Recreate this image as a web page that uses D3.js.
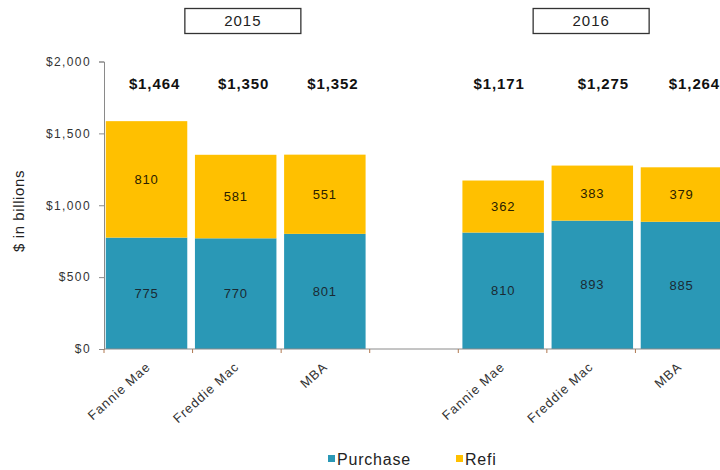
<!DOCTYPE html>
<html><head><meta charset="utf-8">
<script src="https://cdn.jsdelivr.net/npm/d3@7"></script>
<style>body{margin:0;background:#fff}svg{font-family:"Liberation Sans",Arial,sans-serif}</style>
</head><body><svg id="c" width="720" height="470"></svg>
<script>
const slots = ["2015|Fannie Mae","2015|Freddie Mac","2015|MBA","gap","2016|Fannie Mae","2016|Freddie Mac","2016|MBA"];
const categories = ["Fannie Mae","Freddie Mac","MBA","","Fannie Mae","Freddie Mac","MBA"];
const purchase = [775,770,801,null,810,893,885];
const refi = [810,581,551,null,362,383,379];
const totalLabels = ["$1,464","$1,350","$1,352",null,"$1,171","$1,275","$1,264"];
const years = ["2015","2016"];
const yearSlots = [1,5];
const yTicks = [0,500,1000,1500,2000];
const seriesNames = ["Purchase","Refi"];
const colors = ["#2A98B6","#FFC000"];

// layout (pixel nudges of the hand-placed total labels in the original)
const totalNudge = [8,8,8,0,-4,11,13];

const svg = d3.select("#c");
const x0 = 104, x1 = 724, yb = 349, yt = 61.5;
const x = d3.scaleBand().domain(slots).range([x0,x1]).paddingInner(0.086).paddingOuter(0.02);
const xt = d3.scaleBand().domain(slots).range([x0,x1]);
const y = d3.scaleLinear().domain([0,2000]).range([yb,yt]);

// y axis
const ya = svg.append("g").attr("transform",`translate(${x0},0)`)
  .call(d3.axisLeft(y).tickValues(yTicks).tickSize(5).tickPadding(8).tickFormat(d=>"$"+d3.format(",")(d)));
ya.select(".domain").attr("stroke","#8a8a8a");
ya.selectAll(".tick line").attr("stroke","#8a8a8a");
ya.selectAll("text").attr("font-size",12).attr("letter-spacing",1.4).attr("fill","#333").attr("font-family","Liberation Sans, Arial, sans-serif");

svg.append("text").attr("transform","translate(24,211) rotate(-90)").attr("text-anchor","middle")
  .attr("font-size",15).attr("letter-spacing",0.6).attr("fill","#222").text("$ in billions");

// bars
const data = slots.map((s,i)=>({s,i,p:purchase[i],r:refi[i]})).filter(d=>d.p!=null);
const g = svg.append("g");
data.forEach(d=>{
  g.append("rect").attr("x",x(d.s)).attr("width",x.bandwidth()).attr("y",y(d.p)).attr("height",y(0)-y(d.p)).attr("fill",colors[0]);
  g.append("rect").attr("x",x(d.s)).attr("width",x.bandwidth()).attr("y",y(d.p+d.r)).attr("height",y(d.p)-y(d.p+d.r)).attr("fill",colors[1]);
  const cx = x(d.s)+x.bandwidth()/2;
  g.append("text").attr("x",cx).attr("y",(y(0)+y(d.p))/2).attr("dy","0.35em").attr("text-anchor","middle")
    .attr("font-size",13).attr("letter-spacing",0.8).attr("fill","#1a2a33").text(d.p);
  g.append("text").attr("x",cx).attr("y",(y(d.p)+y(d.p+d.r))/2).attr("dy","0.35em").attr("text-anchor","middle")
    .attr("font-size",13).attr("letter-spacing",0.8).attr("fill","#2a2000").text(d.r);
  g.append("text").attr("x",cx+totalNudge[d.i]).attr("y",84).attr("dy","0.35em").attr("text-anchor","middle")
    .attr("font-size",15).attr("letter-spacing",0.9).attr("font-weight","bold").attr("fill","#111").text(totalLabels[d.i]);
});

// x axis
const xa = svg.append("g").attr("transform",`translate(0,${yb})`);
xa.append("line").attr("x1",x0).attr("x2",720).attr("stroke","#8a8a8a");
xt.domain().forEach(s=>{
  xa.append("line").attr("x1",xt(s)).attr("x2",xt(s)).attr("y1",0).attr("y2",4).attr("stroke","#b07850");
});
slots.forEach((s,i)=>{
  if(!categories[i]) return;
  const cx = xt(s)+xt.bandwidth()/2;
  svg.append("text").attr("transform",`translate(${cx+3},${yb+19}) rotate(-42)`).attr("text-anchor","end")
    .attr("font-size",13).attr("letter-spacing",1).attr("fill","#333").text(categories[i]);
});

// year boxes
years.forEach((yr,k)=>{
  const cx = xt(slots[yearSlots[k]])+xt.bandwidth()/2 + (k===0?6:0);
  svg.append("rect").attr("x",cx-58).attr("y",8.5).attr("width",116).attr("height",25).attr("fill","#fff").attr("stroke","#333").attr("stroke-width",1.3);
  svg.append("text").attr("x",cx).attr("y",21).attr("dy","0.35em").attr("text-anchor","middle").attr("font-size",15).attr("letter-spacing",1).attr("fill","#222").text(yr);
});

// legend
const legX = [328,456];
seriesNames.forEach((n,k)=>{
  svg.append("rect").attr("x",legX[k]).attr("y",455).attr("width",7).attr("height",7).attr("fill",colors[k]);
  svg.append("text").attr("x",legX[k]+9).attr("y",459).attr("dy","0.35em").attr("font-size",16).attr("letter-spacing",0.8).attr("fill","#222").text(n);
});
</script></body></html>
